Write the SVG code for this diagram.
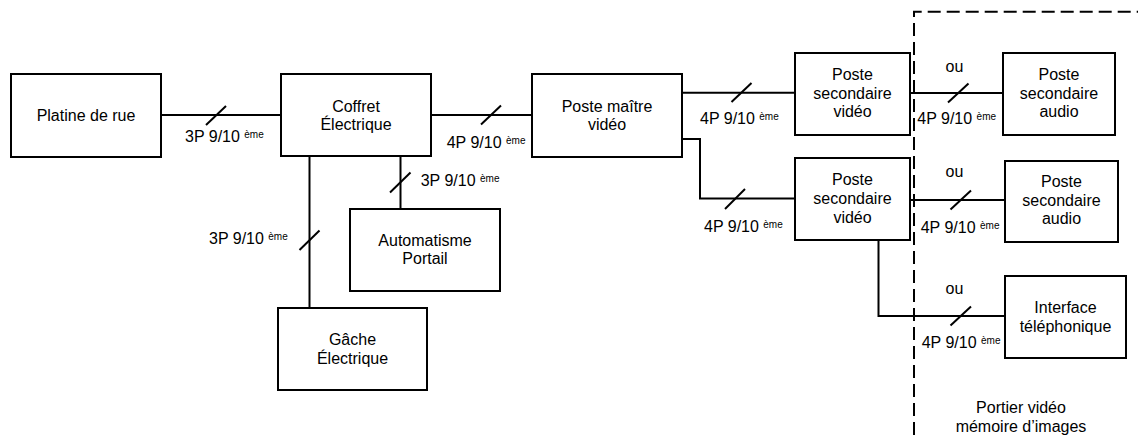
<svg xmlns="http://www.w3.org/2000/svg" width="1138" height="435" viewBox="0 0 1138 435">
<style>
.box{fill:#fff;stroke:#000;stroke-width:2}
.t{font-family:"Liberation Sans",Arial,sans-serif;font-size:16px;fill:#000;text-anchor:middle}
.l{font-family:"Liberation Sans",Arial,sans-serif;font-size:16px;fill:#000}
.sup{font-size:10px}
.c{fill:none;stroke:#000;stroke-width:2}
.d{fill:none;stroke:#000;stroke-width:2;stroke-dasharray:13 6}
</style>
<rect width="1138" height="435" fill="#fff"/>
<g id="connectors">
<path class="c" d="M161,115H281"/>
<path class="c" d="M206,125L226,106"/>
<path class="c" d="M431,115H532"/>
<path class="c" d="M481,124.5L501,105.5"/>
<path class="c" d="M309.5,156V308"/>
<path class="c" d="M299.5,250L319.5,230.5"/>
<path class="c" d="M400.5,156V209"/>
<path class="c" d="M390,192.5L410.5,172.5"/>
<path class="c" d="M682,92.7H795"/>
<path class="c" d="M731.5,102L751.5,83"/>
<path class="c" d="M682,139H700V198.5H795"/>
<path class="c" d="M725,209L745,189"/>
<path class="c" d="M910,93H1003"/>
<path class="c" d="M948,102.5L968.5,83.5"/>
<path class="c" d="M910,200H1005"/>
<path class="c" d="M950.5,209.5L971,190.5"/>
<path class="c" d="M878.5,240V316H1005"/>
<path class="c" d="M950.5,325.5L971,306.5"/>
<path class="d" d="M914,435V11.7H1138"/>
<text class="l" x="185" y="141.5">3P 9/10 <tspan class="sup" dy="-4">ème</tspan></text>
<text class="l" x="446.7" y="148">4P 9/10 <tspan class="sup" dy="-4">ème</tspan></text>
<text class="l" x="209" y="244">3P 9/10 <tspan class="sup" dy="-4">ème</tspan></text>
<text class="l" x="420.7" y="186">3P 9/10 <tspan class="sup" dy="-4">ème</tspan></text>
<text class="l" x="700" y="124">4P 9/10 <tspan class="sup" dy="-4">ème</tspan></text>
<text class="l" x="704" y="232">4P 9/10 <tspan class="sup" dy="-4">ème</tspan></text>
<text class="l" x="917.3" y="124">4P 9/10 <tspan class="sup" dy="-4">ème</tspan></text>
<text class="l" x="920.7" y="233">4P 9/10 <tspan class="sup" dy="-4">ème</tspan></text>
<text class="l" x="921.7" y="348.3">4P 9/10 <tspan class="sup" dy="-4">ème</tspan></text>
<text class="t" x="954.5" y="71.7">ou</text>
<text class="t" x="954.5" y="176.7">ou</text>
<text class="t" x="954.5" y="294">ou</text>
</g>
<g id="platine"><rect class="box" x="11" y="74" width="150" height="83"/><text class="t" x="86" y="120.5">Platine de rue</text></g>
<g id="coffret"><rect class="box" x="281" y="74" width="150" height="82"/><text class="t" x="356" y="111.5">Coffret</text><text class="t" x="356" y="130">Électrique</text></g>
<g id="poste-maitre"><rect class="box" x="532" y="74" width="150" height="83"/><text class="t" x="607" y="111.5">Poste maître</text><text class="t" x="607" y="130">vidéo</text></g>
<g id="psv1"><rect class="box" x="795" y="53" width="115" height="82"/><text class="t" x="852.5" y="80">Poste</text><text class="t" x="852.5" y="98.7">secondaire</text><text class="t" x="852.5" y="117.4">vidéo</text></g>
<g id="psv2"><rect class="box" x="795" y="158" width="115" height="82"/><text class="t" x="852.5" y="185">Poste</text><text class="t" x="852.5" y="204">secondaire</text><text class="t" x="852.5" y="222.7">vidéo</text></g>
<g id="psa1"><rect class="box" x="1003" y="53" width="112" height="82"/><text class="t" x="1059" y="80">Poste</text><text class="t" x="1059" y="98.7">secondaire</text><text class="t" x="1059" y="117.4">audio</text></g>
<g id="psa2"><rect class="box" x="1005" y="161" width="113" height="81"/><text class="t" x="1061.5" y="187">Poste</text><text class="t" x="1061.5" y="205.5">secondaire</text><text class="t" x="1061.5" y="224">audio</text></g>
<g id="interface"><rect class="box" x="1005" y="276" width="121" height="82"/><text class="t" x="1065.5" y="313.3">Interface</text><text class="t" x="1065.5" y="331.7">téléphonique</text></g>
<g id="automatisme"><rect class="box" x="350" y="209" width="150" height="82"/><text class="t" x="425" y="245.5">Automatisme</text><text class="t" x="425" y="264">Portail</text></g>
<g id="gache"><rect class="box" x="278" y="308" width="149" height="82"/><text class="t" x="352.5" y="345">Gâche</text><text class="t" x="352.5" y="363.5">Électrique</text></g>
<g id="zone-label"><text class="t" x="1021" y="413.3">Portier vidéo</text><text class="t" x="1021" y="431.7">mémoire d’images</text></g>
</svg>
